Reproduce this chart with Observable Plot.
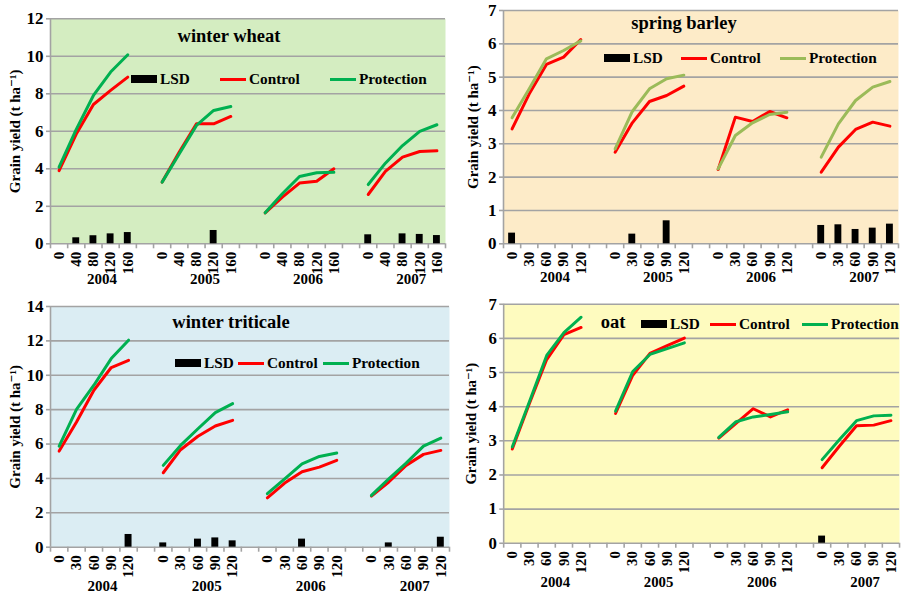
<!DOCTYPE html>
<html>
<head>
<meta charset="utf-8">
<script src="https://cdn.jsdelivr.net/npm/d3@7"></script>
<script src="https://cdn.jsdelivr.net/npm/@observablehq/plot@0.6"></script>
<style>
  html, body { margin: 0; padding: 0; background: #fff; }
  #wrap { position: relative; width: 903px; height: 602px; overflow: hidden; background: #fff;
          font-family: "Liberation Serif", "Times New Roman", Tinos, "DejaVu Serif", "Noto Serif", serif; font-weight: bold; color: #000; }
  .panel { position: absolute; }
  .title { position: absolute; font-size: 18.5px; line-height: 1; white-space: nowrap; transform: translateX(-50%); }
  .leg { position: absolute; height: 20px; display: flex; align-items: center; font-size: 15.3px; white-space: nowrap; }
  .sw { display: inline-block; width: 26px; margin-right: 3px; }
</style>
</head>
<body>
<div id="wrap"></div>
<script>
// ---- data ----
const years = ["2004", "2005", "2006", "2007"];
const wheatDoses = ["0", "40", "80", "120", "160"];
const otherDoses = ["0", "30", "60", "90", "120"];

const wheatControl    = [3.90, 5.85, 7.43, 8.18, 8.89,  3.29, 4.89, 6.40, 6.40, 6.79,  1.65, 2.49, 3.24, 3.34, 4.00,  2.63, 3.86, 4.62, 4.92, 4.96];
const wheatProtection = [4.09, 6.10, 7.91, 9.16, 10.08, 3.29, 4.80, 6.31, 7.11, 7.32,  1.65, 2.67, 3.59, 3.79, 3.82,  3.16, 4.30, 5.24, 6.00, 6.35];
const wheatLSD        = [null, 0.32, 0.43, 0.53, 0.60,  null, null, null, 0.71, null,  null, null, null, null, null,  0.48, null, 0.53, 0.50, 0.44];

const barleyControl    = [3.45, 4.50, 5.38, 5.60, 6.13,  2.75, 3.63, 4.27, 4.45, 4.73,  2.23, 3.80, 3.67, 3.97, 3.78,  2.15, 2.90, 3.43, 3.65, 3.53];
const barleyProtection = [3.78, 4.65, 5.55, 5.80, 6.09,  2.85, 3.97, 4.65, 4.95, 5.06,  2.25, 3.25, 3.63, 3.88, 3.95,  2.60, 3.60, 4.30, 4.70, 4.87];
const barleyLSD        = [0.32, null, null, null, null,  null, 0.29, null, 0.69, null,  null, null, null, null, null,  0.55, 0.57, 0.43, 0.47, 0.59];

const triticaleControl    = [5.59, 7.28, 9.13, 10.45, 10.87,  4.33, 5.67, 6.45, 7.05, 7.38,  2.87, 3.73, 4.39, 4.66, 5.05,  2.97, 3.79, 4.76, 5.40, 5.63];
const triticaleProtection = [5.88, 8.02, 9.42, 10.97, 12.04,  4.76, 5.92, 6.89, 7.83, 8.35,  3.11, 3.98, 4.85, 5.28, 5.48,  3.01, 3.98, 4.89, 5.88, 6.35];
const triticaleLSD        = [null, null, null, null, 0.74,    0.25, null, 0.47, 0.54, 0.37,  null, null, 0.47, null, null,  null, 0.25, null, null, 0.58];

const oatControl    = [2.76, 4.10, 5.38, 6.11, 6.32,  3.80, 4.92, 5.56, 5.79, 6.01,  3.08, 3.51, 3.94, 3.70, 3.91,  2.21, 2.84, 3.44, 3.46, 3.59];
const oatProtection = [2.82, 4.15, 5.50, 6.17, 6.62,  3.87, 5.03, 5.53, 5.70, 5.87,  3.10, 3.56, 3.70, 3.77, 3.85,  2.45, 3.03, 3.59, 3.73, 3.75];
const oatLSD        = [null, null, null, null, null,  null, null, null, null, null,  null, null, null, null, null,  0.21, null, null, null, null];

const yLabel = "Grain yield (t ha⁻¹)";
const GRAY = "#a3a3a3";
const RED = "#ff0000";
const FONT = "'Liberation Serif', 'Times New Roman', Tinos, 'DejaVu Serif', 'Noto Serif', serif";

// ---- helpers ----
// value k (0..19) -> slot on a 23-slot category axis (4 groups of 5 with a blank slot between)
const slot = k => Math.floor(k / 5) * 6 + (k % 5);
function rows(values) {
  return values.map((v, k) => ({ i: slot(k), v, year: years[Math.floor(k / 5)] })).filter(d => d.v != null);
}

// each SVG starts PAD px above its panel so top tick labels are not clipped
const PAD = 12;
const panels = [
  { id: "wheat", name: "winter wheat", left: 0, top: 0, width: 450, height: 300,
    margin: [18.3, 5, 56.7, 50], ymax: 12, ystep: 2, bg: "#d4edc1", protColor: "#00b050",
    doses: wheatDoses, control: wheatControl, protection: wheatProtection, lsd: wheatLSD,
    labelOffset: 41, yearDy: 40,
    title: { x: 229, y: 26.5 },
    legend: { y: 79, lsd: 131, control: 220, protection: 330 } },
  { id: "barley", name: "spring barley", left: 450, top: 0, width: 453, height: 300,
    margin: [10, 5, 56.7, 53], ymax: 7, ystep: 1, bg: "#fdebc8", protColor: "#9bbb59",
    doses: otherDoses, control: barleyControl, protection: barleyProtection, lsd: barleyLSD,
    labelOffset: 36, yearDy: 38,
    title: { x: 684, y: 13.5 },
    legend: { y: 58, lsd: 604, control: 681, protection: 780 } },
  { id: "triticale", name: "winter triticale", left: 0, top: 300, width: 450, height: 302,
    margin: [6, 1, 55.3, 50], ymax: 14, ystep: 2, bg: "#dbedf3", protColor: "#00b050",
    doses: otherDoses, control: triticaleControl, protection: triticaleProtection, lsd: triticaleLSD,
    labelOffset: 41, yearDy: 44,
    title: { x: 231, y: 312.5 },
    legend: { y: 363, lsd: 175, control: 238, protection: 323 } },
  { id: "oat", name: "oat", left: 450, top: 300, width: 460, height: 302,
    margin: [4, 4, 55.3, 54], ymax: 7, ystep: 1, bg: "#fefbbf", protColor: "#00b050",
    doses: otherDoses, control: oatControl, protection: oatProtection, lsd: oatLSD,
    labelOffset: 39, yearDy: 44,
    title: { x: 613, y: 312.5 },
    legend: { y: 324, lsd: 641, control: 710, protection: 802 } }
];

const wrap = document.getElementById("wrap");

for (const p of panels) {
  const yTicks = d3.range(0, p.ymax + 0.001, p.ystep);
  const boundaries = d3.range(-0.5, 23, 1);
  const labelSlots = d3.range(20).map(slot);
  const ctrl = rows(p.control), prot = rows(p.protection), lsd = rows(p.lsd);

  const chart = Plot.plot({
    width: p.width, height: p.height + PAD,
    marginTop: p.margin[0] + PAD, marginRight: p.margin[1], marginBottom: p.margin[2], marginLeft: p.margin[3],
    style: { background: "transparent", fontFamily: FONT, fontSize: "15px", fontWeight: "bold", color: "#000", overflow: "visible" },
    x: { domain: [-0.5, 22.5], label: null, axis: null },
    y: { domain: [0, p.ymax], label: null, axis: null },
    marks: [
      Plot.frame({ fill: p.bg, stroke: null }),
      Plot.gridY(yTicks, { stroke: GRAY, strokeOpacity: 1, strokeWidth: 1.6 }),
      Plot.ruleX([-0.5], { stroke: GRAY, strokeWidth: 1.6 }),
      Plot.axisY(yTicks, { tickSize: 4, tickPadding: 3, stroke: GRAY, strokeWidth: 1.6, fill: "#000", fontSize: 17,
        label: null }),
      Plot.axisY({ ticks: [], tickSize: 0, label: yLabel, labelAnchor: "center", labelArrow: "none", labelOffset: p.labelOffset, fontSize: 15, fill: "#000" }),
      Plot.axisX(boundaries, { tickSize: 5, stroke: GRAY, strokeWidth: 1.6, tickFormat: () => "", label: null }),
      Plot.axisX(labelSlots, { tickSize: 0, tickPadding: 8, tickRotate: -90, tickFormat: i => p.doses[i % 6], label: null, fill: "#000" }),
      Plot.text(years, { x: (d, g) => g * 6 + 2.5, frameAnchor: "bottom", dy: p.yearDy, text: d => d, fill: "#000" }),
      Plot.rect(lsd, { x1: d => d.i - 0.2, x2: d => d.i + 0.2, y1: 0, y2: "v", fill: "#000" }),
      Plot.line(ctrl, { x: "i", y: "v", z: "year", stroke: RED, strokeWidth: 3 }),
      Plot.line(prot, { x: "i", y: "v", z: "year", stroke: p.protColor, strokeWidth: 3 })
    ]
  });

  const div = document.createElement("div");
  div.className = "panel";
  div.style.left = p.left + "px";
  div.style.top = (p.top - PAD) + "px";
  div.appendChild(chart);
  wrap.appendChild(div);

  const t = document.createElement("div");
  t.className = "title";
  t.textContent = p.name;
  t.style.left = p.title.x + "px";
  t.style.top = p.title.y + "px";
  wrap.appendChild(t);

  const items = [
    ["LSD", p.legend.lsd, "rect"],
    ["Control", p.legend.control, RED],
    ["Protection", p.legend.protection, p.protColor]
  ];
  for (const [label, x, kind] of items) {
    const it = document.createElement("div");
    it.className = "leg";
    it.style.left = x + "px";
    it.style.top = (p.legend.y - 10) + "px";
    const sw = document.createElement("span");
    sw.className = "sw";
    if (kind === "rect") { sw.style.height = "8px"; sw.style.background = "#000"; }
    else { sw.style.height = "3px"; sw.style.background = kind; }
    it.appendChild(sw);
    const tx = document.createElement("span");
    tx.textContent = label;
    it.appendChild(tx);
    wrap.appendChild(it);
  }
}
</script>
</body>
</html>
